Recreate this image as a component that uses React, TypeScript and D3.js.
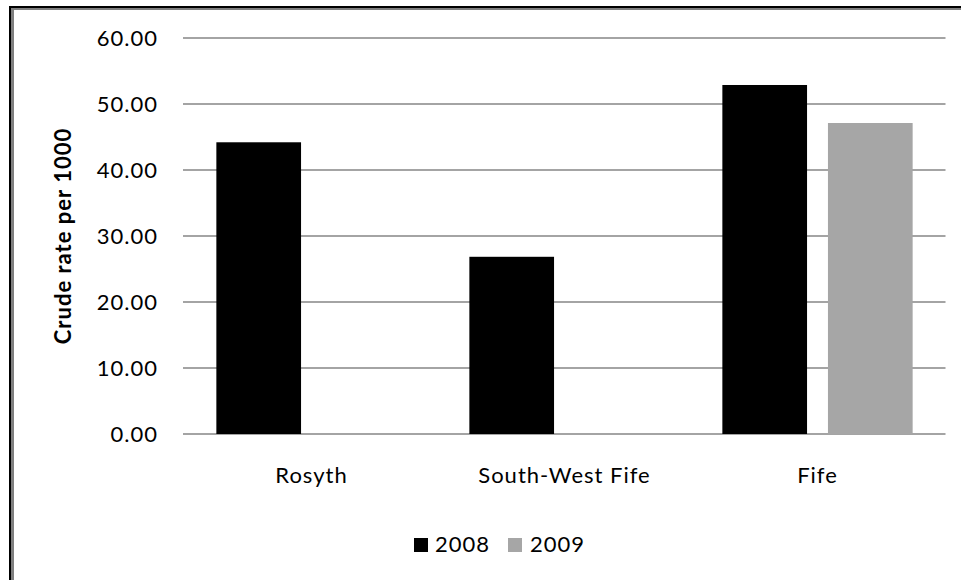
import React from "react";
import * as d3 from "d3";

// Crude rate per 1000 by area and year
const categories = ["Rosyth", "South-West Fife", "Fife"];
const seriesNames = ["2008", "2009"];
const values2008 = [44.2, 26.85, 52.88];
const values2009 = [null, null, 47.12];
const yTicks = [0, 10, 20, 30, 40, 50, 60];

const colors: Record<string, string> = { "2008": "#000000", "2009": "#a6a6a6" };

const W = 961;
const H = 580;
const FONT = "Lato, 'Open Sans', sans-serif";
const SPACING = 1;

export default function App() {
  const y = d3.scaleLinear().domain([0, 60]).range([434, 38]);
  const gridLeft = 183;
  const gridRight = 945.5;
  const x0 = d3.scaleBand<string>().domain(categories).range([185, 944]).padding(0);
  const x1 = d3
    .scaleBand<string>()
    .domain(seriesNames)
    .range([0, x0.bandwidth()])
    .paddingInner(0.198)
    .paddingOuter(0.297);

  const series = [
    { name: "2008", values: values2008 },
    { name: "2009", values: values2009 },
  ];

  const legend = [
    { name: "2008", sx: 414, tx: 435 },
    { name: "2009", sx: 508, tx: 530 },
  ];

  return (
    <div style={{ position: "fixed", left: 0, top: 0 }}>
      <svg width={W} height={H} style={{ display: "block", background: "#fff" }}>
        <rect x={0} y={0} width={W} height={H} fill="#fff" />
        {/* frame edges */}
        <rect x={9} y={6} width={W - 9} height={2} fill="#000" />
        <rect x={11} y={8} width={W - 11} height={2} fill="#7f7f7f" />
        <rect x={9} y={6} width={2} height={H - 6} fill="#000" />
        <rect x={11} y={8} width={3} height={H - 8} fill="#7f7f7f" />

        {/* gridlines */}
        {yTicks.map((t) => (
          <line
            key={t}
            x1={gridLeft}
            x2={gridRight}
            y1={y(t)}
            y2={y(t)}
            stroke="#868686"
            strokeWidth={1.5}
          />
        ))}

        {/* tick labels */}
        {yTicks.map((t) => (
          <text
            key={"l" + t}
            x={158}
            y={y(t) + 8}
            textAnchor="end"
            fontFamily={FONT}
            fontSize={22}
            letterSpacing={SPACING}
            fill="#000"
          >
            {d3.format(".2f")(t)}
          </text>
        ))}

        {/* bars */}
        {series.map((s) =>
          categories.map((c, i) => {
            const v = s.values[i];
            if (v == null) return null;
            return (
              <rect
                key={s.name + c}
                x={(x0(c) as number) + (x1(s.name) as number)}
                y={y(v)}
                width={x1.bandwidth()}
                height={y(0) - y(v)}
                fill={colors[s.name]}
              />
            );
          })
        )}

        {/* category labels */}
        {categories.map((c) => (
          <text
            key={"c" + c}
            x={(x0(c) as number) + x0.bandwidth() / 2}
            y={483}
            textAnchor="middle"
            fontFamily={FONT}
            fontSize={22}
            letterSpacing={SPACING}
            fill="#000"
          >
            {c}
          </text>
        ))}

        {/* y axis title */}
        <text
          transform={`translate(71,236) rotate(-90)`}
          textAnchor="middle"
          fontFamily={FONT}
          fontSize={22}
          fontWeight="bold"
          letterSpacing={SPACING}
          fill="#000"
        >
          Crude rate per 1000
        </text>

        {/* legend */}
        {legend.map((l) => (
          <g key={"lg" + l.name}>
            <rect x={l.sx} y={538} width={14} height={14} fill={colors[l.name]} />
            <text
              x={l.tx}
              y={552}
              fontFamily={FONT}
              fontSize={22}
              letterSpacing={SPACING}
              fill="#000"
            >
              {l.name}
            </text>
          </g>
        ))}
      </svg>
    </div>
  );
}
